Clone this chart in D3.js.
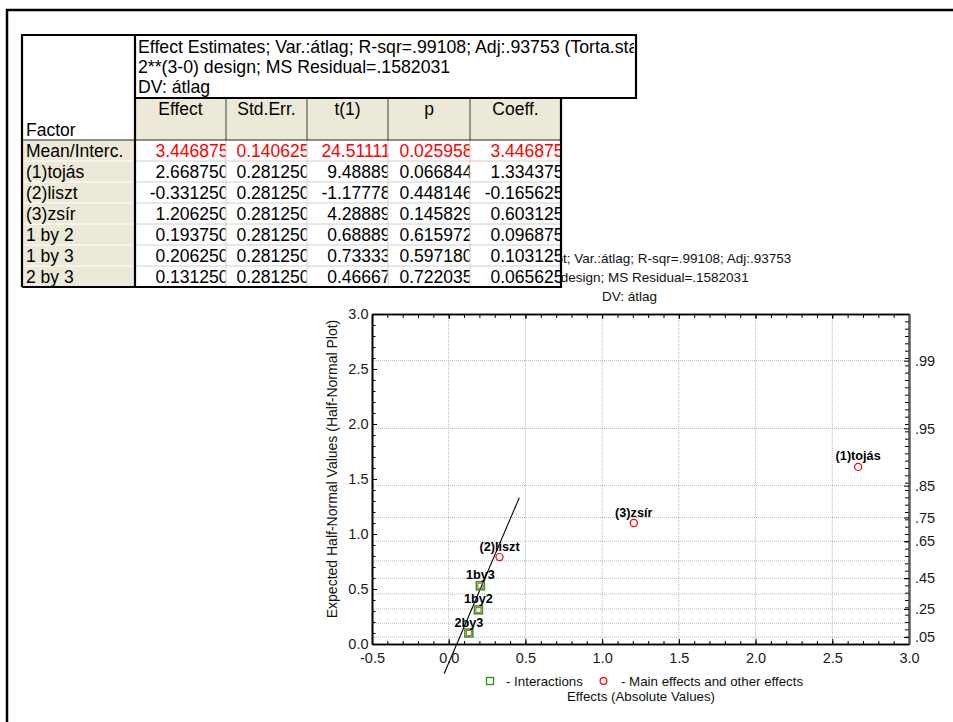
<!DOCTYPE html>
<html>
<head>
<meta charset="utf-8">
<script src="https://cdn.jsdelivr.net/npm/d3@7"></script>
<style>
  body { margin: 0; background: #fff; }
  svg { display: block; font-family: "Liberation Sans", Arial, sans-serif; }
</style>
</head>
<body>
<svg id="chart" width="953" height="722"></svg>
<script>
// ---- effect estimates table ----
const factorNames = ["Mean/Interc.", "(1)tojás", "(2)liszt", "(3)zsír", "1 by 2", "1 by 3", "2 by 3"];
const effectVals = [3.446875, 2.668750, -0.331250, 1.206250, 0.193750, 0.206250, 0.131250];
const stdErrVals = [0.140625, 0.281250, 0.281250, 0.281250, 0.281250, 0.281250, 0.281250];
const tVals = [24.51111, 9.48889, -1.17778, 4.28889, 0.68889, 0.73333, 0.46667];
const pVals = [0.025958, 0.066844, 0.448146, 0.145829, 0.615972, 0.597180, 0.722035];
const coeffVals = [3.446875, 1.334375, -0.165625, 0.603125, 0.096875, 0.103125, 0.065625];
const columnNames = ["Effect", "Std.Err.", "t(1)", "p", "Coeff."];
const tableTitle = [
  "Effect Estimates; Var.:átlag; R-sqr=.99108; Adj:.93753 (Torta.sta)",
  "2**(3-0) design; MS Residual=.1582031",
  "DV: átlag"
];

// ---- half-normal probability plot ----
const plotLabels = ["(1)tojás", "(2)liszt", "(3)zsír", "1by2", "1by3", "2by3"];
const plotEffects = [2.66875, 0.33125, 1.20625, 0.19375, 0.20625, 0.13125];
const halfNormalVals = [1.61, 0.79, 1.10, 0.31, 0.53, 0.10];
const plotKinds = ["main", "main", "main", "inter", "inter", "inter"];
const fitLineX = [-0.03, 0.46];
const fitLineY = [-0.27, 1.33];
const xTickVals = [-0.5, 0, 0.5, 1, 1.5, 2, 2.5, 3];
const xGridVals = [0, 0.5, 1, 1.5, 2, 2.5];
const yTickVals = [0, 0.5, 1, 1.5, 2, 2.5, 3];
const probLabels = [".05", ".15", ".25", ".35", ".45", ".55", ".65", ".75", ".85", ".95", ".99"];
const probZ = [0.0627, 0.1891, 0.3186, 0.4538, 0.5978, 0.7554, 0.9346, 1.1503, 1.4395, 1.9600, 2.5758];
const probShown = [".05", ".25", ".45", ".65", ".75", ".85", ".95", ".99"];
const chartTitle = [
  "Half-Normal Plot; Var.:átlag; R-sqr=.99108; Adj:.93753",
  "2**(3-0) design; MS Residual=.1582031",
  "DV: átlag"
];
const legendLabels = ["- Interactions", "- Main effects and other effects"];
const xTitle = "Effects (Absolute Values)";
const yTitle = "Expected Half-Normal Values (Half-Normal Plot)";

const svg = d3.select("#chart");
const defs = svg.append("defs");
const red = "#ff0000", green = "#1f9a1f", beige = "#ece9d8";

// window frame
svg.append("path").attr("d", "M7,722V10H953")
  .attr("fill", "none").attr("stroke", "#000").attr("stroke-width", 2.5);

// ================= plot =================
const x = d3.scaleLinear().domain([-0.5, 3.0]).range([372, 909]);
const y = d3.scaleLinear().domain([0, 3]).range([644, 314]);
const plot = svg.append("g");

// title: the table window sits on top of its left part, so only the uncovered part is painted
const titleClip = defs.append("clipPath").attr("id", "clip-charttitle");
titleClip.append("rect").attr("x", 562).attr("y", 230).attr("width", 391).attr("height", 60);
titleClip.append("rect").attr("x", 0).attr("y", 288).attr("width", 953).attr("height", 20);
plot.append("g").attr("clip-path", "url(#clip-charttitle)")
  .selectAll("text").data(chartTitle).join("text")
  .attr("x", 629.5).attr("y", (d, i) => 262.5 + i * 19)
  .attr("text-anchor", "middle").attr("font-size", 13.5).attr("fill", "#111")
  .text(d => d);

// grid
const grid = plot.append("g").attr("stroke", "#b8b8b8").attr("stroke-width", 1)
  .attr("stroke-dasharray", "1,1");
grid.selectAll(".gx").data(xGridVals).join("line")
  .attr("x1", d => x(d)).attr("x2", d => x(d)).attr("y1", y(3)).attr("y2", y(0));
grid.selectAll(".gy").data(probZ).join("line")
  .attr("y1", d => y(d)).attr("y2", d => y(d)).attr("x1", x(-0.5)).attr("x2", x(3));

// minor ticks
const minorX = d3.range(-0.5, 3.0001, 0.1);
const minorY = d3.range(0, 3.0001, 0.1);
const minorR = d3.range(0, 3.0001, 1 / 15);
plot.append("g").attr("transform", `translate(0,${y(0)})`)
  .call(d3.axisBottom(x).tickValues(minorX).tickSize(-3).tickSizeOuter(0).tickFormat(""));
plot.append("g").attr("transform", `translate(0,${y(3)})`)
  .call(d3.axisTop(x).tickValues(minorX).tickSize(-4).tickSizeOuter(0).tickFormat(""));
plot.append("g").attr("transform", `translate(${x(-0.5)},0)`)
  .call(d3.axisLeft(y).tickValues(minorY).tickSize(-3.5).tickSizeOuter(0).tickFormat(""));
plot.append("g").attr("transform", `translate(${x(3)},0)`)
  .call(d3.axisRight(y).tickValues(minorR).tickSize(-4).tickSizeOuter(0).tickFormat(""));

// major axes
plot.append("g").attr("transform", `translate(0,${y(0)})`)
  .call(d3.axisBottom(x).tickValues(xTickVals).tickSize(-5).tickSizeOuter(0)
    .tickPadding(9).tickFormat(d => d.toFixed(1)));
plot.append("g").attr("transform", `translate(${x(-0.5)},0)`)
  .call(d3.axisLeft(y).tickValues(yTickVals).tickSize(-5).tickSizeOuter(0)
    .tickPadding(3.5).tickFormat(d => d.toFixed(1)));
plot.append("g").attr("transform", `translate(0,${y(3)})`)
  .call(d3.axisTop(x).tickValues(xGridVals).tickSize(-5).tickSizeOuter(0).tickFormat(""));
const shownZ = probShown.map(l => probZ[probLabels.indexOf(l)]);
const axRight = plot.append("g").attr("transform", `translate(${x(3)},0)`)
  .call(d3.axisRight(y).tickValues(shownZ).tickSize(-5).tickSizeOuter(0)
    .tickPadding(6).tickFormat((d, i) => probShown[i]));

plot.selectAll(".tick text").attr("font-size", 14.5).attr("fill", "#1a1a1a")
  .attr("font-family", '"Liberation Sans", Arial, sans-serif');
plot.selectAll(".domain").attr("stroke", "#000").attr("stroke-width", 1.6);
axRight.select(".domain").attr("stroke", "#555").attr("stroke-width", 2);
plot.selectAll(".tick line").attr("stroke", "#000").attr("stroke-width", 1);

// axis titles
plot.append("text").attr("x", 641).attr("y", 701).attr("text-anchor", "middle")
  .attr("font-size", 13.3).attr("fill", "#111").text(xTitle);
plot.append("text").attr("transform", "translate(337,469) rotate(-90)")
  .attr("text-anchor", "middle").attr("font-size", 14).attr("fill", "#111").text(yTitle);

// fitted line
plot.append("line")
  .attr("x1", x(fitLineX[0])).attr("y1", y(fitLineY[0]))
  .attr("x2", x(fitLineX[1])).attr("y2", y(fitLineY[1]))
  .attr("stroke", "#000").attr("stroke-width", 1.1);

// points
const pts = plotLabels.map((l, i) => ({ label: l, ex: plotEffects[i], hn: halfNormalVals[i], kind: plotKinds[i] }));
const mk = plot.append("g");
pts.forEach(p => {
  const cx = x(p.ex), cy = y(p.hn);
  if (p.kind === "main") {
    mk.append("circle").attr("cx", cx).attr("cy", cy).attr("r", 3.6)
      .attr("fill", "none").attr("stroke", red).attr("stroke-width", 1.2);
  } else {
    mk.append("rect").attr("x", cx - 4).attr("y", cy - 4).attr("width", 8).attr("height", 8)
      .attr("fill", "none").attr("stroke", green).attr("stroke-width", 1.5);
    mk.append("rect").attr("x", cx - 2.5).attr("y", cy - 2.5).attr("width", 5).attr("height", 5)
      .attr("fill", "none").attr("stroke", "#b04a28").attr("stroke-width", 0.9);
  }
  mk.append("text").attr("x", cx).attr("y", cy - 6.5).attr("text-anchor", "middle")
    .attr("font-size", 12.7).attr("font-weight", "bold").attr("fill", "#000").text(p.label);
});

// legend
const lg = plot.append("g").attr("font-size", 13.3).attr("fill", "#111");
lg.append("rect").attr("x", 486.5).attr("y", 677.5).attr("width", 7).attr("height", 7)
  .attr("fill", "none").attr("stroke", green).attr("stroke-width", 1.3);
lg.append("text").attr("x", 506).attr("y", 686).text(legendLabels[0]);
lg.append("circle").attr("cx", 603.5).attr("cy", 681).attr("r", 3.4)
  .attr("fill", "none").attr("stroke", red).attr("stroke-width", 1.2);
lg.append("text").attr("x", 621).attr("y", 686).text(legendLabels[1]);

// ================= table =================
const tbl = svg.append("g").attr("font-size", 17.5).attr("fill", "#000");
const colEdges = [135, 226, 307, 388, 470, 561];
const tLeft = 22, tTop = 35, titleRight = 636, headTop = 98, headBottom = 140, rowH = 21;
const tBottom = headBottom + rowH * factorNames.length;

// backgrounds
tbl.append("rect").attr("x", tLeft).attr("y", tTop).attr("width", colEdges[0] - tLeft)
  .attr("height", headBottom - tTop).attr("fill", "#fff");
tbl.append("rect").attr("x", colEdges[0]).attr("y", tTop).attr("width", titleRight - colEdges[0])
  .attr("height", headTop - tTop).attr("fill", "#fff");
tbl.append("rect").attr("x", colEdges[0]).attr("y", headTop).attr("width", colEdges[5] - colEdges[0])
  .attr("height", headBottom - headTop).attr("fill", beige);
tbl.append("rect").attr("x", tLeft).attr("y", headBottom).attr("width", colEdges[0] - tLeft)
  .attr("height", tBottom - headBottom).attr("fill", beige);
tbl.append("rect").attr("x", colEdges[0]).attr("y", headBottom).attr("width", colEdges[5] - colEdges[0])
  .attr("height", tBottom - headBottom).attr("fill", "#fff");

// inner grid
const rowLines = d3.range(1, factorNames.length).map(i => headBottom + i * rowH);
tbl.selectAll(".rl").data(rowLines).join("line")
  .attr("x1", colEdges[0]).attr("x2", colEdges[5]).attr("y1", d => d).attr("y2", d => d)
  .attr("stroke", "#d0d0d0").attr("stroke-width", 1);
tbl.selectAll(".rlf").data(rowLines).join("line")
  .attr("x1", tLeft).attr("x2", colEdges[0]).attr("y1", d => d).attr("y2", d => d)
  .attr("stroke", "#fff").attr("stroke-width", 1.2);
tbl.selectAll(".cl").data(colEdges.slice(1, 5)).join("line")
  .attr("x1", d => d).attr("x2", d => d).attr("y1", headBottom).attr("y2", tBottom)
  .attr("stroke", "#d0d0d0").attr("stroke-width", 1);
tbl.selectAll(".hl").data(colEdges.slice(1, 5)).join("line")
  .attr("x1", d => d).attr("x2", d => d).attr("y1", headTop).attr("y2", headBottom)
  .attr("stroke", "#404040").attr("stroke-width", 1);
tbl.append("line").attr("x1", tLeft).attr("x2", colEdges[5]).attr("y1", headBottom).attr("y2", headBottom)
  .attr("stroke", "#202020").attr("stroke-width", 1.2);

// heavy borders
tbl.append("path").attr("stroke", "#000").attr("stroke-width", 2.2).attr("fill", "none")
  .attr("d",
    `M${tLeft},${tBottom}V${tTop}H${titleRight}V${headTop}H${colEdges[0]}` +
    `M${colEdges[0]},${tTop}V${tBottom}` +
    `M${tLeft},${tBottom}H${colEdges[5]}V${headTop}`);

// title text (clipped inside its box)
defs.append("clipPath").attr("id", "clip-title").append("rect")
  .attr("x", colEdges[0]).attr("y", tTop).attr("width", titleRight - colEdges[0] - 2).attr("height", headTop - tTop);
tbl.append("g").attr("clip-path", "url(#clip-title)").attr("font-size", 17.7)
  .selectAll("text").data(tableTitle).join("text")
  .attr("x", 138).attr("y", (d, i) => 53 + i * 20.2).text(d => d);

// column headers
tbl.append("g").selectAll("text").data(columnNames).join("text")
  .attr("x", (d, i) => (colEdges[i] + colEdges[i + 1]) / 2).attr("y", 115)
  .attr("text-anchor", "middle").text(d => d);
tbl.append("text").attr("x", 26).attr("y", 135.5).text("Factor");

// factor names
tbl.append("g").selectAll("text").data(factorNames).join("text")
  .attr("x", 26).attr("y", (d, i) => headBottom + i * rowH + 16.5).text(d => d);

// numeric columns
const columns = [
  effectVals.map(v => v.toFixed(6)),
  stdErrVals.map(v => v.toFixed(6)),
  tVals.map(v => v.toFixed(5)),
  pVals.map(v => v.toFixed(6)),
  coeffVals.map(v => v.toFixed(6))
];
columns.forEach((vals, c) => {
  const id = "clip-col" + c;
  defs.append("clipPath").attr("id", id).append("rect")
    .attr("x", colEdges[c]).attr("y", headBottom)
    .attr("width", colEdges[c + 1] - colEdges[c] - (c === 4 ? 1 : 0.5)).attr("height", tBottom - headBottom);
  tbl.append("g").attr("clip-path", `url(#${id})`)
    .selectAll("text").data(vals).join("text")
    .attr("x", colEdges[c + 1] + 2.5).attr("y", (d, i) => headBottom + i * rowH + 16.5)
    .attr("text-anchor", "end").attr("fill", (d, i) => i === 0 ? red : "#000")
    .text(d => d);
});
</script>
</body>
</html>
